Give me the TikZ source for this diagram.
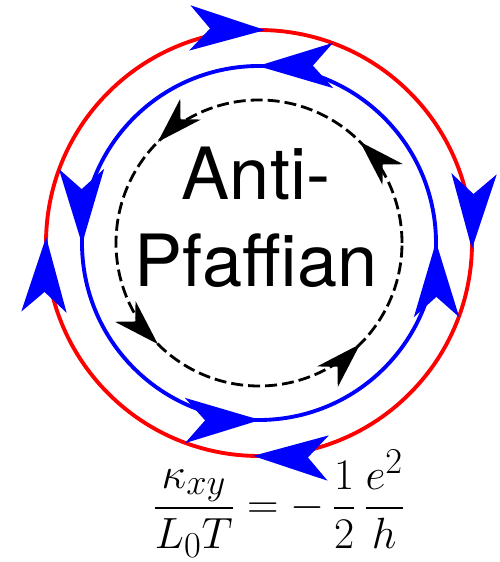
\documentclass[tikz,border=0pt]{standalone}
\usepackage{amsmath}
\usepackage{fontspec}
\setsansfont{TeX Gyre Heros}
\usetikzlibrary{arrows.meta,decorations.markings,positioning}

\begin{document}
\begin{tikzpicture}[
    bigtip/.tip={Stealth[length=1.5cm,width=0.9cm,inset=0.4cm]},
    smalltip/.tip={Stealth[length=0.92cm,width=0.58cm,inset=0.28cm]},
    edgetips/.style={postaction={decorate}, decoration={markings,
        mark=between positions #1 and 0.99 step 0.25 with {\arrow[blue]{bigtip}}}},
    edgeline/.style={line width=2.2pt},
    label/.style={font=\sffamily\fontsize{41}{49}\selectfont, anchor=base, inner sep=0pt}
  ]
  \useasboundingbox[fill=white] (0,0) rectangle (10,11.24);
  \coordinate (c) at (5.18,6.38);

  % outer edge (clockwise)
  \draw[red, edgeline, edgetips=0.1295] (c) ++(45:4.26) arc[start angle=45, end angle=-315, radius=4.26];
  % inner edge (counter-clockwise)
  \draw[blue, edgeline, edgetips=0.126] (c) ++(45:3.54) arc[start angle=45, end angle=405, radius=3.54];
  % neutral mode
  \draw[black, line width=1.6pt, dash pattern=on 0.24cm off 0.1cm, postaction={decorate}, decoration={markings,
      mark=between positions 0.125 and 0.875 step 0.25 with {\arrow{smalltip}}}]
    (c) ++(0:2.86) arc[start angle=0, end angle=360, radius=2.86];

  % labels
  \node[label] (anti) at (5.12,7.24) {Anti-};
  \node[label] (pfaffian) at (5.12,5.5) {Pfaffian};
  \node[font=\fontsize{29}{34}\selectfont, inner sep=0pt] (kappa) at (5.58,1.17)
    {$\displaystyle \frac{\kappa_{xy}}{L_0T} = -\,\frac{1}{2}\,\frac{e^2}{h}$};
\end{tikzpicture}
\end{document}
